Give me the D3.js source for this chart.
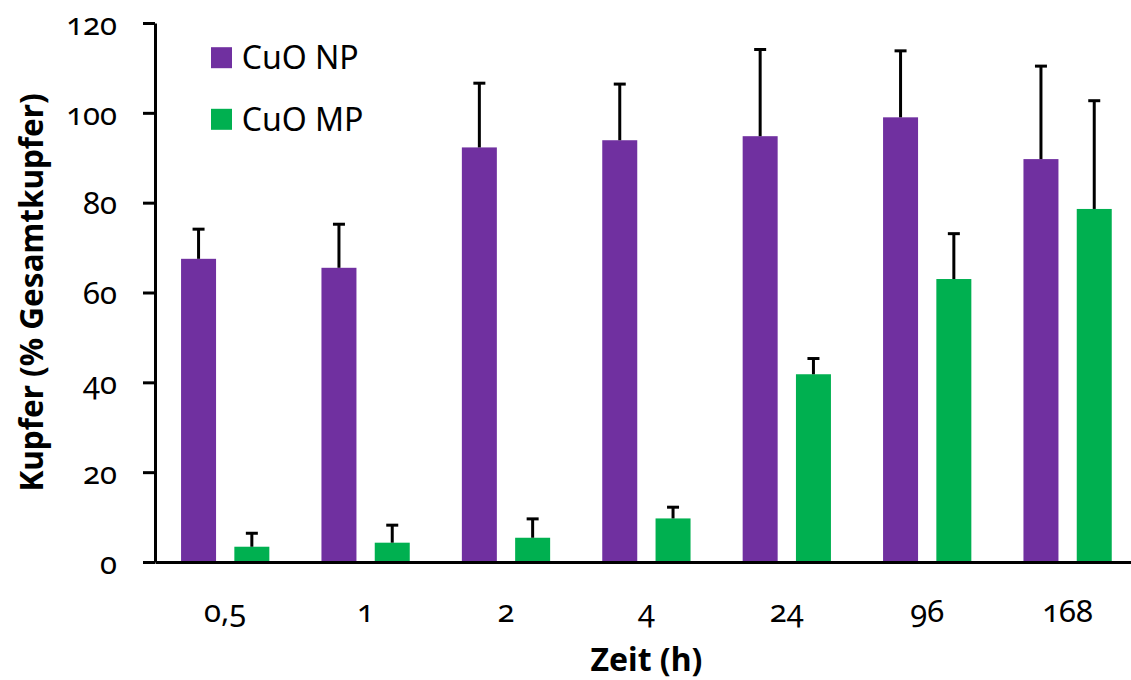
<!DOCTYPE html>
<html>
<head>
<meta charset="utf-8">
<script src="https://cdn.jsdelivr.net/npm/d3@7"></script>
<style>
  html, body { margin: 0; padding: 0; background: #fff; }
  svg { display: block; font-family: "Noto Sans", "Open Sans", sans-serif; }
  .num { font-variant-numeric: oldstyle-nums; font-feature-settings: "onum" 1; }
</style>
</head>
<body>
<svg id="chart" width="1131" height="680"></svg>
<script>
// Time points (hours) on the x axis
const categories = ["0,5", "1", "2", "4", "24", "96", "168"];
const seriesNames = ["CuO NP", "CuO MP"];
const seriesColors = ["#7030A0", "#00B050"];

// Dissolved copper as % of total copper, with upper standard deviation
const npValues = [67.5, 65.5, 92.3, 93.9, 94.8, 99.0, 89.7];
const npErrors = [6.6, 9.7, 14.3, 12.5, 19.3, 14.8, 20.7];
const mpValues = [3.4, 4.3, 5.4, 9.7, 41.8, 63.0, 78.6];
const mpErrors = [3.0, 3.9, 4.2, 2.5, 3.5, 10.1, 24.1];

const yTicks = [0, 20, 40, 60, 80, 100, 120];

const svg = d3.select("#chart");

const plot = { left: 155, top: 23, bottom: 562, step: 140.4 };
plot.right = plot.left + plot.step * categories.length;

const x = d3.scaleBand()
  .domain(categories)
  .range([plot.left, plot.right])
  .paddingInner(0)
  .paddingOuter(0);

const xSeries = d3.scaleBand()
  .domain(seriesNames)
  .range([0, x.bandwidth()])
  .paddingInner(0.3433)
  .paddingOuter(0.489);

const y = d3.scaleLinear()
  .domain([0, 120])
  .range([plot.bottom, plot.top]);

const rows = categories.map((c, i) => ({
  cat: c,
  bars: [
    { name: seriesNames[0], value: npValues[i], err: npErrors[i], color: seriesColors[0] },
    { name: seriesNames[1], value: mpValues[i], err: mpErrors[i], color: seriesColors[1] }
  ]
}));

// Bars
const groups = svg.append("g").selectAll("g")
  .data(rows)
  .join("g")
  .attr("transform", d => `translate(${x(d.cat)},0)`);

groups.selectAll("rect")
  .data(d => d.bars)
  .join("rect")
  .attr("x", d => xSeries(d.name))
  .attr("width", xSeries.bandwidth())
  .attr("y", d => y(d.value))
  .attr("height", d => y(0) - y(d.value))
  .attr("fill", d => d.color);

// Upper error bars
const capHalf = 6;
const errs = groups.selectAll("g.err")
  .data(d => d.bars)
  .join("g")
  .attr("class", "err")
  .attr("stroke", "#000")
  .attr("stroke-width", 3);

errs.append("line")
  .attr("x1", d => xSeries(d.name) + xSeries.bandwidth() / 2)
  .attr("x2", d => xSeries(d.name) + xSeries.bandwidth() / 2)
  .attr("y1", d => y(d.value))
  .attr("y2", d => y(d.value + d.err));

errs.append("line")
  .attr("x1", d => xSeries(d.name) + xSeries.bandwidth() / 2 - capHalf)
  .attr("x2", d => xSeries(d.name) + xSeries.bandwidth() / 2 + capHalf)
  .attr("y1", d => y(d.value + d.err))
  .attr("y2", d => y(d.value + d.err));

// Y axis
const yAxis = svg.append("g")
  .attr("transform", `translate(${plot.left},0)`)
  .call(d3.axisLeft(y).tickValues(yTicks).tickSize(12).tickSizeOuter(0).tickPadding(26));
yAxis.select(".domain").attr("stroke", "#000").attr("stroke-width", 3);
yAxis.selectAll(".tick line").attr("stroke", "#000").attr("stroke-width", 3);
yAxis.selectAll(".tick text")
  .attr("class", "num")
  .attr("font-family", "Noto Sans")
  .attr("font-size", 31)
  .attr("fill", "#000")
  .attr("dy", "0.36em");

// X axis
const xAxis = svg.append("g")
  .attr("transform", `translate(0,${plot.bottom})`)
  .call(d3.axisBottom(x).tickSize(0).tickSizeOuter(0).tickPadding(38));
xAxis.select(".domain").attr("stroke", "#000").attr("stroke-width", 3);
xAxis.selectAll(".tick text")
  .attr("class", "num")
  .attr("font-family", "Noto Sans")
  .attr("font-size", 31)
  .attr("fill", "#000");

// Axis titles
svg.append("text")
  .attr("x", (plot.left + plot.right) / 2)
  .attr("y", 671)
  .attr("text-anchor", "middle")
  .attr("font-weight", "bold")
  .attr("font-size", 32)
  .text("Zeit (h)");

svg.append("text")
  .attr("transform", `translate(43,${(plot.top + plot.bottom) / 2}) rotate(-90)`)
  .attr("text-anchor", "middle")
  .attr("font-weight", "bold")
  .attr("font-size", 31.5)
  .text("Kupfer (% Gesamtkupfer)");

// Legend
const legend = svg.append("g").selectAll("g")
  .data(seriesNames)
  .join("g")
  .attr("transform", (d, i) => `translate(211,${57.7 + i * 61.6})`);

legend.append("rect")
  .attr("x", 0)
  .attr("y", -10.5)
  .attr("width", 21)
  .attr("height", 21)
  .attr("fill", (d, i) => seriesColors[i]);

legend.append("text")
  .attr("x", 30.7)
  .attr("dy", "0.36em")
  .attr("font-size", 32)
  .attr("fill", "#000")
  .text(d => d);
</script>
</body>
</html>
